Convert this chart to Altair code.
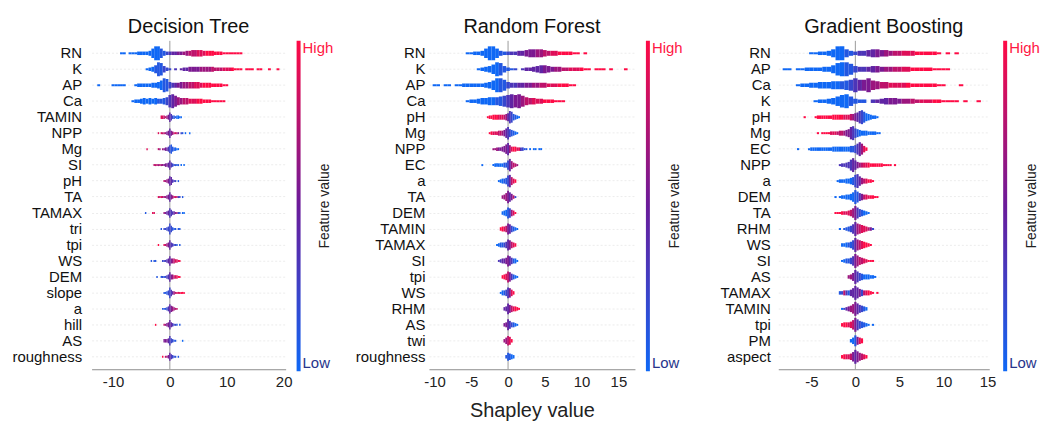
import altair as alt
import pandas as pd

FONT = "Liberation Sans"
LOW_COLOR, MID_COLOR, HIGH_COLOR = "#0f68f5", "#6a1b9a", "#ff0a45"

MODELS = ["Decision Tree", "Random Forest", "Gradient Boosting"]

# START = centre of the first bin, DENSITY = swarm thickness per bin (0-9),
# COLOR = mean feature value per bin (0 = low / blue, 9 = high / red).
# The four top rows use 0.5-wide bins, the others 0.25-wide bins.
WIDE_ROWS = 4
WIDE_STEP = 0.5
NARROW_STEP = 0.25

DT_FEATURES = ["RN", "K", "AP", "Ca", "TAMIN", "NPP", "Mg", "SI", "pH", "TA",
               "TAMAX", "tri", "tpi", "WS", "DEM", "slope", "a", "hill", "AS", "roughness"]
DT_START = [-8.5, -4.0, -12.5, -6.5, -1.5, -2.0, -4.0, -2.75, -1.0, -2.0,
            -4.25, -1.5, -2.0, -3.25, -2.25, -1.0, -1.25, -2.5, -1.0, -1.25]
DT_DENSITY = [
    "110111 2222 3699 63 2222222 33 4444 3333 222 1111111",
    "12359842 1010 122333333333 2222222 111 01110 11001001",
    "1000011111 000 12222233 46984 3334444444 3333 2222 11",
    "122343434 3345897 544433333 22211111",
    "222123642212211",
    "10111123632111101101001",
    "100000001101122356322110",
    "1111111122363211110101",
    "112365211010",
    "111111236321111101",
    "100001100000011236422111101100",
    "10112374211011",
    "1000112363211101",
    "101100001112363332211",
    "10011112363322211",
    "112374221111111",
    "11123643211",
    "100000112363211101",
    "22236321100001",
    "101125321101",
]
DT_COLOR = [
    "00000000000000 11 2344556 67 7788 8999 999 9999999",
    "00011122 2030 444555566667 7778889 999 99999 99999999",
    "0000000000 000 00000000 00112 3455667788 8999 9999 99",
    "000000000 1112345 667788899 99999999",
    "887765432110000",
    "80877655 4567875 02100000",
    "800000007606554321110000",
    "7776766555443221110000",
    "766544332010",
    "878766554567873201",
    "100008800000065443334562110000",
    "10222222111011",
    "9000876543322101",
    "101100002233445678889",
    "10012123345678899",
    "111223467888999",
    "11123456677",
    "900000765544322101",
    "55543221100000",
    "907654322101",
]

RF_FEATURES = ["RN", "K", "AP", "Ca", "pH", "Mg", "NPP", "EC", "a", "TA",
               "DEM", "TAMIN", "TAMAX", "SI", "tpi", "WS", "RHM", "AS", "twi", "roughness"]
RF_START = [-5.5, -4.0, -10.0, -5.5, -2.75, -2.5, -2.0, -3.5, -1.25, -0.75,
            -0.75, -1.0, -1.5, -1.25, -0.75, -1.0, -0.5, -0.5, -0.5, -0.25]
RF_DENSITY = [
    "112236996 3222233 4555543332222 1101",
    "1234698421 101 2234554333222222 110111010001",
    "11011011 222222 3469974 3333333333 222222 11",
    "1223445556789897544332221110",
    "122333333345874321",
    "1222233346854321",
    "112223468533322221101011011",
    "10000012222233685321",
    "1233478532",
    "23586421",
    "23476431",
    "2334764321",
    "12333476432",
    "12334764331",
    "234764321",
    "13347642",
    "237543321",
    "23753321",
    "24652",
    "25432",
]
RF_COLOR = [
    "000000000 1123344 5556677889999 9909",
    "0000001111 203 4444455566778889 990999090009",
    "00000000 000000 0000112 3344556677 888999 99",
    "00000000 11234556 77888 9999999",
    "999999888764321100",
    "9988877654321100",
    "66655 5554 689988 3211 00000000",
    "00000000000011246776",
    "0001124789",
    "66654572",
    "00012689",
    "9987542100",
    "00112345789",
    "33445543100",
    "998753100",
    "00123589",
    "444578999",
    "55432100",
    "66789",
    "11100",
]

GB_FEATURES = ["RN", "AP", "Ca", "K", "pH", "Mg", "EC", "NPP", "a", "DEM",
               "TA", "RHM", "WS", "SI", "AS", "TAMAX", "TAMIN", "tpi", "PM", "aspect"]
GB_START = [-5.0, -8.0, -6.5, -4.5, -5.75, -4.25, -6.5, -1.75, -2.0, -2.25,
            -2.25, -1.75, -1.5, -1.5, -0.75, -1.75, -1.5, -1.5, -0.5, -1.5]
GB_DENSITY = [
    "112235995 3233455 4433333322222 10101",
    "110112222 33589974 333443333333 22222 1111",
    "1223344455 567977965 4433333 222222 110001",
    "122346896322 02234443333222222 111101001",
    "10000 12222222 33333333 44568975 43221",
    "101111 2222333 458965 4333222211",
    "10000 12222222222 33333333 44579742",
    "12234796 4333332222221111 01",
    "12223345896433221",
    "10122334697543322211",
    "1112223469754321",
    "1012346976543221",
    "22334697654321",
    "123346975432111",
    "2359754333221",
    "223334697543332101",
    "112346975432",
    "233346975432101",
    "247543",
    "233346975432",
]
GB_COLOR = [
    "000000001 1233445 5667788899999 99999",
    "000000000 00000112 334455667788 99999 9999",
    "0000000000 112345566 7788889 999999 999999",
    "000000001111 03444555667788899 999999999",
    "90000 99999999 99999888 76543210 00000",
    "909999 8887776 554321 0000000000",
    "00000 00000000000 00000000 11234689",
    "33333344 5678899999999999 09",
    "00000001234678999",
    "00000000011357889999",
    "9999888765321000",
    "0011123467888752",
    "00011246789999",
    "001123567788999",
    "6654321000000",
    "127314444527899909",
    "024566543210",
    "999887532110000",
    "001589",
    "998875456789",
]

X_TICKS = [[-10, -5, 0, 5, 10, 15, 20], [-10, -5, 0, 5, 10, 15], [-5, 0, 5, 10, 15]]
X_RANGE = [[-13.75, 20.35], [-10.75, 17.25], [-8.75, 15.2]]
ZERO = [0]


def table(model, feats, starts, dens, cols):
    recs = []
    for rank, (f, x0, d, c) in enumerate(zip(feats, starts, dens, cols)):
        d = d.replace(" ", "")
        c = c.replace(" ", "")
        step = WIDE_STEP if rank < WIDE_ROWS else NARROW_STEP
        for j, ch in enumerate(d):
            if ch == "0":
                continue
            x = x0 + j * step
            v = int(c[j]) if j < len(c) else int(c[-1])
            recs.append(dict(model=model, feature=f, shap=x, lo=x - step / 2,
                             hi=x + step / 2, density=int(ch), value=v))
    return pd.DataFrame(recs)


def panel(model, feats, starts, dens, cols, ticks, rng, width, y_extent, y_pad, xtitle, leg_offset):
    data = table(model, feats, starts, dens, cols)
    x_axis = alt.Axis(values=ticks, grid=False, ticks=False, domainColor="#8c8c8c",
                      labelFontSize=15, labelPadding=5, labelColor="#222222",
                      labelExpr="'' + datum.value", titleFontSize=20,
                      titleFontWeight="normal", titleColor="#222222", titlePadding=11)
    xscale = alt.Scale(domain=rng, nice=False, zero=False)
    bars = alt.Chart(data).mark_bar(strokeWidth=0).encode(
        x=alt.X("lo:Q", scale=xscale, axis=x_axis, title=xtitle),
        x2="hi:Q",
        y=alt.Y("feature:N", sort=feats,
                scale=alt.Scale(paddingInner=0, paddingOuter=0.28),
                axis=alt.Axis(title=None, ticks=False, domain=False, labelFontSize=15,
                              labelColor="#111111", labelPadding=y_pad, grid=True,
                              gridColor="#ececec", gridDash=[2, 2], bandPosition=0.5,
                              minExtent=y_extent, maxExtent=y_extent)),
        size=alt.Size("density:Q", scale=alt.Scale(domain=[0, 9], range=[0.5, 14]), legend=None),
        color=alt.Color("value:Q",
                        scale=alt.Scale(domain=[0, 4.5, 9], range=[LOW_COLOR, MID_COLOR, HIGH_COLOR],
                                        interpolate="rgb"),
                        legend=alt.Legend(title="Feature value", titleOrient="left", titlePadding=-37,
                                          titleFontSize=14, titleFontWeight="normal",
                                          titleColor="#222222", titleAnchor="middle",
                                          gradientLength=332, gradientThickness=4,
                                          gradientStrokeWidth=0, values=[0, 9],
                                          labelExpr="datum.value > 4 ? 'High' : 'Low'",
                                          labelColor=alt.ExprRef("datum.value > 4 ? '#ff1744' : '#27348b'"),
                                          labelFontSize=15, labelOffset=2,
                                          orient="right", offset=leg_offset, direction="vertical")),
    )
    zero = alt.Chart(pd.DataFrame({"zero": ZERO})).mark_rule(color="#9a9a9a", strokeWidth=1).encode(
        x=alt.X("zero:Q", scale=xscale, title=xtitle)
    )
    return alt.layer(zero, bars).properties(
        width=width, height=330,
        title=alt.TitleParams(model, fontSize=20, fontWeight="normal", color="#111111",
                              anchor="middle", offset=3),
    )


p1 = panel(MODELS[0], DT_FEATURES, DT_START, DT_DENSITY, DT_COLOR, X_TICKS[0], X_RANGE[0],
           195, 84, 10, None, 33)
p2 = panel(MODELS[1], RF_FEATURES, RF_START, RF_DENSITY, RF_COLOR, X_TICKS[1], X_RANGE[1],
           207, 74, 4, "Shapley value", 33)
p3 = panel(MODELS[2], GB_FEATURES, GB_START, GB_DENSITY, GB_COLOR, X_TICKS[2], X_RANGE[2],
           212, 75, 8, None, 36)

chart = alt.hconcat(p1, p2, p3, spacing=21).resolve_scale(
    color="independent", x="independent", y="independent", size="independent"
).properties(
    padding={"left": 0, "top": 8, "right": 0, "bottom": 0}
).configure(font=FONT).configure_view(strokeWidth=0)

chart.save("out.html", embed_options={"renderer": "svg", "actions": False})
